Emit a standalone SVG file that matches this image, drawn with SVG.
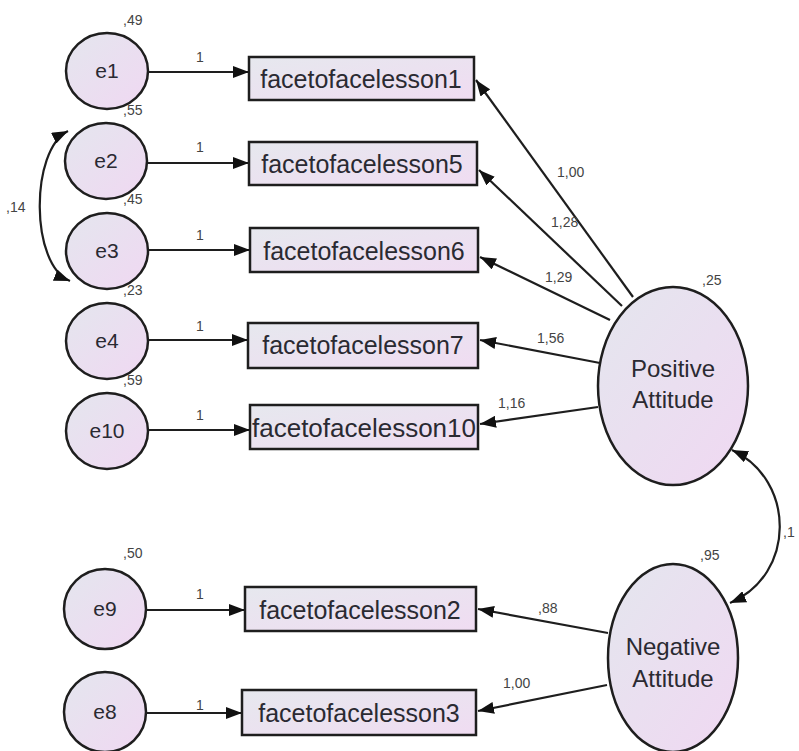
<svg xmlns="http://www.w3.org/2000/svg" width="799" height="751" viewBox="0 0 799 751">
<style>
.node{stroke:#1e1e1e;stroke-width:2.5}
.box{fill:url(#gb)}
.cir{fill:url(#gc)}
.t{font-family:"Liberation Sans",Arial,sans-serif;fill:#2a2a32}
.bt{font-size:25px;text-anchor:middle}
.ct{font-size:21px;text-anchor:middle}
.lt{font-size:24px;text-anchor:middle}
.lab{font-family:"Liberation Sans",Arial,sans-serif;font-size:14px;fill:#444}
.edge{stroke:#1e1e1e;stroke-width:2.2;fill:none}
</style>
<defs>
<linearGradient id="gb" x1="0" y1="0" x2="1" y2="1">
<stop offset="0" stop-color="#e6e8ee"/>
<stop offset="1" stop-color="#f0dcf2"/>
</linearGradient>
<linearGradient id="gc" x1="0" y1="0" x2="1" y2="1">
<stop offset="0" stop-color="#e4e6ee"/>
<stop offset="1" stop-color="#f0d8f2"/>
</linearGradient>
<marker id="ah" viewBox="0 0 16 12" refX="16" refY="6" markerWidth="16" markerHeight="12" markerUnits="userSpaceOnUse" orient="auto-start-reverse">
<path d="M0,0 L16,6 L0,12 Z" fill="#111"/>
</marker>
</defs>
<rect width="799" height="751" fill="#fff"/>
<g id="connectors">
<line class="edge" x1="149" y1="72" x2="249" y2="72" marker-end="url(#ah)"/>
<line class="edge" x1="148" y1="163" x2="249" y2="163" marker-end="url(#ah)"/>
<line class="edge" x1="149" y1="250" x2="250" y2="250" marker-end="url(#ah)"/>
<line class="edge" x1="149" y1="340" x2="248" y2="340" marker-end="url(#ah)"/>
<line class="edge" x1="149" y1="430" x2="250" y2="430" marker-end="url(#ah)"/>
<line class="edge" x1="147" y1="610" x2="245" y2="610" marker-end="url(#ah)"/>
<line class="edge" x1="147" y1="713" x2="242" y2="713" marker-end="url(#ah)"/>
<line class="edge" x1="633" y1="297" x2="476" y2="80" marker-end="url(#ah)"/>
<line class="edge" x1="622" y1="306" x2="479" y2="170" marker-end="url(#ah)"/>
<line class="edge" x1="610" y1="320" x2="480" y2="257" marker-end="url(#ah)"/>
<line class="edge" x1="600" y1="363" x2="480" y2="340" marker-end="url(#ah)"/>
<line class="edge" x1="598" y1="407" x2="480" y2="424" marker-end="url(#ah)"/>
<line class="edge" x1="608" y1="633" x2="478" y2="609" marker-end="url(#ah)"/>
<line class="edge" x1="607" y1="685" x2="478" y2="711" marker-end="url(#ah)"/>
<path class="edge" d="M68,131 C30,150 30,265 70,281" marker-start="url(#ah)" marker-end="url(#ah)"/>
<path class="edge" d="M732,450 C796,480 796,575 730,603" marker-start="url(#ah)" marker-end="url(#ah)"/>
</g>
<g id="labels">
<text class="lab" x="196" y="62">1</text>
<text class="lab" x="196" y="152">1</text>
<text class="lab" x="196" y="240">1</text>
<text class="lab" x="196" y="331">1</text>
<text class="lab" x="196" y="420">1</text>
<text class="lab" x="196" y="599">1</text>
<text class="lab" x="196" y="710">1</text>
<text class="lab" x="123" y="25">,49</text>
<text class="lab" x="123" y="115">,55</text>
<text class="lab" x="123" y="204">,45</text>
<text class="lab" x="123" y="295">,23</text>
<text class="lab" x="123" y="385">,59</text>
<text class="lab" x="123" y="558">,50</text>
<text class="lab" x="123" y="622">,31</text>
<text class="lab" x="6" y="212">,14</text>
<text class="lab" x="557" y="177">1,00</text>
<text class="lab" x="551" y="227">1,28</text>
<text class="lab" x="545" y="282">1,29</text>
<text class="lab" x="537" y="343">1,56</text>
<text class="lab" x="498" y="408">1,16</text>
<text class="lab" x="702" y="285">,25</text>
<text class="lab" x="700" y="560">,95</text>
<text class="lab" x="538" y="613">,88</text>
<text class="lab" x="503" y="688">1,00</text>
<text class="lab" x="783" y="537">,1</text>
</g>
<g id="e1"><ellipse class="node cir" cx="107" cy="71" rx="41" ry="38"/><text class="t ct" x="107" y="78">e1</text></g>
<g id="e2"><ellipse class="node cir" cx="106" cy="161" rx="41" ry="38"/><text class="t ct" x="106" y="168">e2</text></g>
<g id="e3"><ellipse class="node cir" cx="107" cy="251" rx="41" ry="38"/><text class="t ct" x="107" y="258">e3</text></g>
<g id="e4"><ellipse class="node cir" cx="107" cy="341" rx="41" ry="38"/><text class="t ct" x="107" y="348">e4</text></g>
<g id="e10"><ellipse class="node cir" cx="107" cy="431" rx="41" ry="38"/><text class="t ct" x="107" y="438">e10</text></g>
<g id="e9"><ellipse class="node cir" cx="105" cy="609" rx="41" ry="40"/><text class="t ct" x="105" y="616">e9</text></g>
<g id="e8"><ellipse class="node cir" cx="105" cy="712" rx="41" ry="40"/><text class="t ct" x="105" y="719">e8</text></g>
<g id="b1"><rect class="node box" x="249" y="57" width="225" height="43"/><text class="t bt" x="361" y="88">facetofacelesson1</text></g>
<g id="b5"><rect class="node box" x="249" y="142" width="228" height="43"/><text class="t bt" x="362" y="173">facetofacelesson5</text></g>
<g id="b6"><rect class="node box" x="250" y="228" width="228" height="44"/><text class="t bt" x="364" y="260">facetofacelesson6</text></g>
<g id="b7"><rect class="node box" x="248" y="323" width="230" height="45"/><text class="t bt" x="363" y="354">facetofacelesson7</text></g>
<g id="b10"><rect class="node box" x="250" y="405" width="228" height="44"/><text class="t bt" x="364" y="437" textLength="224" lengthAdjust="spacingAndGlyphs">facetofacelesson10</text></g>
<g id="b2"><rect class="node box" x="245" y="587" width="231" height="44"/><text class="t bt" x="360" y="619">facetofacelesson2</text></g>
<g id="b3"><rect class="node box" x="242" y="690" width="234" height="45"/><text class="t bt" x="359" y="722">facetofacelesson3</text></g>
<g id="pos"><ellipse class="node cir" cx="673" cy="386" rx="75" ry="99"/><text class="t lt" x="673" y="377">Positive</text><text class="t lt" x="673" y="408">Attitude</text></g>
<g id="neg"><ellipse class="node cir" cx="673" cy="658" rx="65" ry="94"/><text class="t lt" x="673" y="655">Negative</text><text class="t lt" x="673" y="687">Attitude</text></g>
</svg>
